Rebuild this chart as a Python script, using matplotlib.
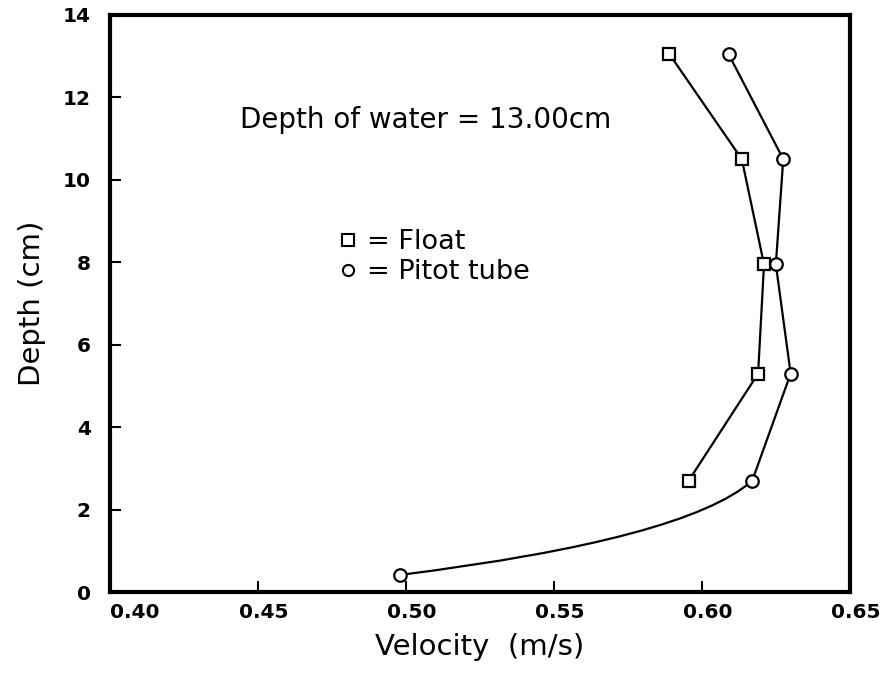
import matplotlib
matplotlib.use("Agg")
import matplotlib.pyplot as plt
import matplotlib.transforms as mtransforms
import numpy as np
from matplotlib.path import Path
from matplotlib.patches import PathPatch
from matplotlib.lines import Line2D

# Velocity profiles, depth of water 13.00 cm
float_depth = [13.05, 10.5, 7.95, 5.3, 2.7]
float_vel = [0.589, 0.6135, 0.621, 0.619, 0.5955]

pitot_depth = [13.05, 10.5, 7.95, 5.3, 2.7, 0.42]
pitot_vel = [0.609, 0.6275, 0.625, 0.630, 0.617, 0.498]

x_ticks = [0.40, 0.45, 0.50, 0.55, 0.60, 0.65]
y_ticks = [0, 2, 4, 6, 8, 10, 12, 14]

plt.rcParams['font.family'] = 'DejaVu Sans'

fig = plt.figure(figsize=(8.88, 6.73), dpi=100)
ax = fig.add_axes([0.124, 0.12, 0.833, 0.858])

mk = dict(color='black', lw=1.6, markerfacecolor='white',
          markeredgecolor='black', markeredgewidth=1.6, markersize=9)

ax.plot(float_vel, float_depth, marker='s', **mk)
# straight segments for the upper pitot points
ax.plot(pitot_vel[:-1], pitot_depth[:-1], marker='o', **mk)

# curved segment down to the lowest pitot reading
x0, y0 = pitot_vel[-1], pitot_depth[-1]
x1, y1 = pitot_vel[-2], pitot_depth[-2]
cx = x0 + 0.81 * (x1 - x0)
cy = y0 + 0.38 * (y1 - y0)
curve = Path([(x0, y0), (cx, cy), (x1, y1)],
             [Path.MOVETO, Path.CURVE3, Path.CURVE3])
ax.add_patch(PathPatch(curve, fill=False, lw=1.6, edgecolor='black', zorder=1))
ax.plot([x0], [y0], marker='o', linestyle='none', **{k: v for k, v in mk.items() if k != 'lw'})

ax.set_xlim(0.40, 0.65)
ax.set_ylim(0, 14)
ax.set_xticks(x_ticks)
ax.set_yticks(y_ticks)
ax.set_xticklabels([f"{v:.2f}" for v in x_ticks])
ax.tick_params(direction='in', length=8, width=1.5, labelsize=14.5)
ax.tick_params(axis='x', pad=8)
ax.tick_params(axis='y', pad=14)
for lab in ax.get_xticklabels() + ax.get_yticklabels():
    lab.set_fontweight('bold')
# x tick labels sit a little to the right of their ticks, the first one starts at the axis
shift = mtransforms.ScaledTranslation(4 / 72, 0, fig.dpi_scale_trans)
xlabs = ax.get_xticklabels()
for lab in xlabs[1:]:
    lab.set_transform(lab.get_transform() + shift)
xlabs[0].set_horizontalalignment('left')
for s in ax.spines.values():
    s.set_linewidth(3)

ax.set_xlabel('Velocity  (m/s)', fontsize=21, labelpad=8)
ax.set_ylabel('Depth (cm)', fontsize=21, labelpad=12)

ax.text(0.5065, 11.45, 'Depth of water = 13.00cm', fontsize=20,
        ha='center', va='center')

handles = [
    Line2D([], [], marker='s', linestyle='none', markerfacecolor='white',
           markeredgecolor='black', markeredgewidth=1.5, markersize=8),
    Line2D([], [], marker='o', linestyle='none', markerfacecolor='white',
           markeredgecolor='black', markeredgewidth=1.5, markersize=8),
]
ax.legend(handles, ['= Float', '= Pitot tube'], loc='upper left',
          bbox_to_anchor=(0.292, 0.652), frameon=False, fontsize=19.5,
          handlelength=0.6, handletextpad=0.4, labelspacing=0.15,
          borderpad=0)

fig.savefig('out.png', dpi=100)
